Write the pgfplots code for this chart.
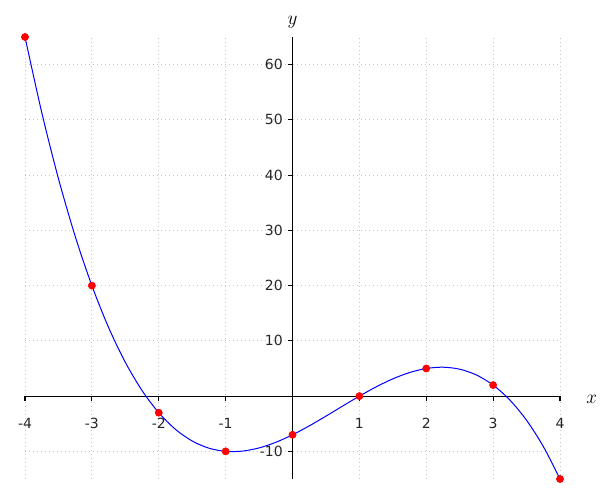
\documentclass[border=0pt]{standalone}
\usepackage{pgfplots}
\pgfplotsset{compat=1.18}
\usepackage{fontspec}
\setmainfont{DejaVu Sans}
\begin{document}
\begin{tikzpicture}
\begin{axis}[
  name=ax,
  scale only axis,
  width=401.25pt, height=331.5pt,
  xmin=-4, xmax=4, ymin=-15, ymax=65,
  axis lines=middle,
  axis line style={-, black, line width=0.8pt},
  xtick={-4,-3,-2,-1,1,2,3,4},
  ytick={-10,10,20,30,40,50,60},
  tick align=outside,
  major tick length=3.75pt,
  tick style={black, line width=0.8pt},
  grid=major,
  grid style={gray!45, line width=0.6pt, dash pattern=on 0.6pt off 2.4pt},
  /pgf/number format/assume math mode=true,
  ticklabel style={font=\fontsize{10.5}{12}\selectfont, text=black!85},
  xticklabel style={yshift=-9.5pt},
  xlabel={$x$}, ylabel={$y$},
  every axis x label/.style={at={(axis cs:4,0)}, anchor=base west, inner sep=0pt, xshift=19.5pt, yshift=-5.25pt, font=\fontsize{14}{16}\selectfont},
  every axis y label/.style={at={(axis cs:0,65)}, anchor=base, inner sep=0pt, yshift=9pt, font=\fontsize{14}{16}\selectfont},
  clip=false,
]
\addplot[blue, line width=0.75pt, smooth, no markers] coordinates {
(-4,65) (-3.75,51.359) (-3.5,39.375) (-3.25,28.953) (-3,20) (-2.75,12.422)
(-2.5,6.125) (-2.25,1.016) (-2,-3) (-1.75,-6.016) (-1.5,-8.125) (-1.25,-9.422)
(-1,-10) (-0.75,-9.953) (-0.5,-9.375) (-0.25,-8.359) (0,-7) (0.25,-5.391)
(0.5,-3.625) (0.75,-1.797) (1,0) (1.25,1.672) (1.5,3.125) (1.75,4.266)
(2,5) (2.25,5.234) (2.5,4.875) (2.75,3.828) (3,2) (3.25,-0.703)
(3.5,-4.375) (3.75,-9.109) (4,-15)
};
\addplot[only marks, mark=*, mark size=2.7pt, color=red, fill=red] coordinates {
(-4,65) (-3,20) (-2,-3) (-1,-10) (0,-7) (1,0) (2,5) (3,2) (4,-15)
};
\end{axis}
\path (ax.south west) ++(-18.75pt,-15.75pt) coordinate (bl);
\path (ax.north east) ++(30pt,27.75pt) coordinate (tr);
\path (bl) rectangle (tr);
\end{tikzpicture}
\end{document}
